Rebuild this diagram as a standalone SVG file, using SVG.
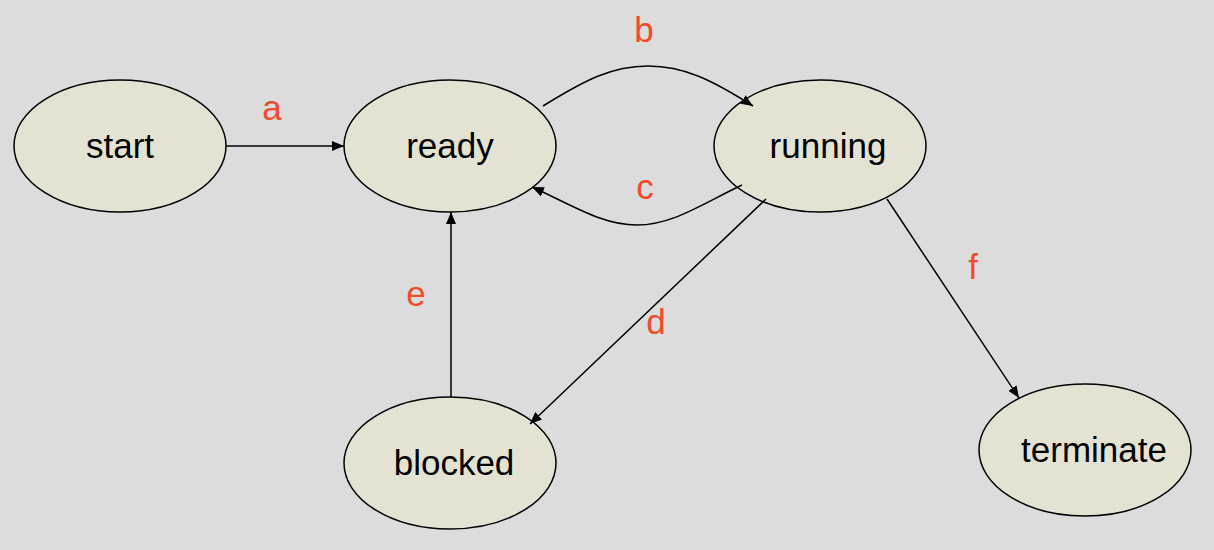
<svg xmlns="http://www.w3.org/2000/svg" width="1214" height="550" viewBox="0 0 1214 550">
<defs>
<style>
.node{fill:#E4E3D3;stroke:#000;stroke-width:1.5}
.nt{font-family:"Liberation Sans",Arial,sans-serif;font-size:35px;fill:#000;text-anchor:middle}
.lbl{font-family:"Liberation Sans",Arial,sans-serif;font-size:35px;fill:#EE4B2B;text-anchor:middle}
.edge{fill:none;stroke:#000;stroke-width:1.5;marker-end:url(#arr)}
</style>
<marker id="arr" viewBox="0 0 12 10" refX="12" refY="5" markerWidth="12" markerHeight="10" markerUnits="userSpaceOnUse" orient="auto">
<path d="M0,0 L12,5 L0,10 Z" fill="#000"/>
</marker>
</defs>
<rect width="1214" height="550" fill="#DCDCDC"/>
<g id="start"><ellipse class="node" cx="120" cy="146" rx="106" ry="66"/><text class="nt" x="120" y="158">start</text></g>
<g id="ready"><ellipse class="node" cx="450" cy="146" rx="106" ry="66"/><text class="nt" x="450" y="158">ready</text></g>
<g id="running"><ellipse class="node" cx="820" cy="146" rx="106" ry="66"/><text class="nt" x="828" y="158">running</text></g>
<g id="blocked"><ellipse class="node" cx="450" cy="463" rx="106" ry="66"/><text class="nt" x="454" y="475">blocked</text></g>
<g id="terminate"><ellipse class="node" cx="1085" cy="450" rx="106" ry="66"/><text class="nt" x="1094" y="462">terminate</text></g>
<g id="connectors">
<path class="edge" d="M226,146 L344,146"/>
<path class="edge" d="M543,106 C585,80 612,66 648,66 C684,66 712,80 753,106"/>
<path class="edge" d="M742,185 C700,205 672,225 637,225 C602,225 572,205 532,187"/>
<path class="edge" d="M766,199 L530,424"/>
<path class="edge" d="M451,397 L451,212"/>
<path class="edge" d="M887,199 L1019,398"/>
</g>
<g id="labels">
<text class="lbl" x="272" y="120">a</text>
<text class="lbl" x="644" y="42">b</text>
<text class="lbl" x="645" y="199">c</text>
<text class="lbl" x="656" y="334">d</text>
<text class="lbl" x="416" y="306">e</text>
<text class="lbl" x="973" y="279">f</text>
</g>
</svg>
